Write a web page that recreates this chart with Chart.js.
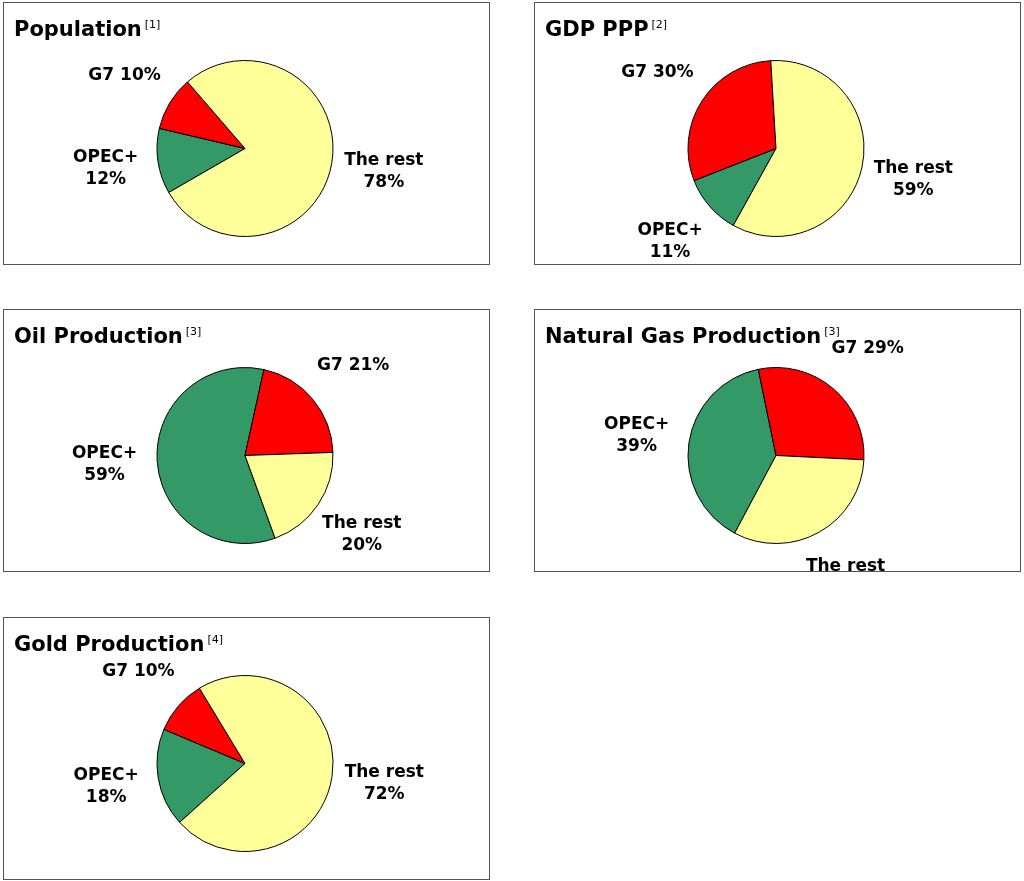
<!DOCTYPE html>
<html>
<head>
<meta charset="UTF-8">
<script src="https://cdn.jsdelivr.net/npm/chart.js"></script>
<style>
  body { margin: 0; background: #fff; font-family: "DejaVu Sans", Verdana, sans-serif; }
  .panel { position: absolute; width: 487px; height: 263px; border: 1px solid #555; box-sizing: border-box; }
  .panel canvas { position: absolute; left: 0; top: 0; }
  .title { position: absolute; left: 10px; top: 14px; font-size: 21px; font-weight: bold; color: #000; z-index: 2; }
  .title sup { font-size: 11px; font-weight: normal; margin-left: 3px; }
</style>
</head>
<body>
<script>
// data
const titles = ["Population", "GDP PPP", "Oil Production", "Natural Gas Production", "Gold Production"];
const refs = ["[1]", "[2]", "[3]", "[3]", "[4]"];
const groups = ["OPEC+", "G7", "The rest"];
const opecShare = [12, 11, 59, 39, 18];
const g7Share = [10, 30, 21, 29, 10];
const restShare = [78, 59, 20, 32, 72];
const rotations = [240, 209, 160, 208, 228];
// which groups get a two-line label (value under name)
const twoLine = [[true, false, true], [true, false, true], [true, false, true], [true, false, true], [true, false, true]];

const colors = ["#339966", "#ff0000", "#ffff99"];
const positions = [[3, 2], [534, 2], [3, 309], [534, 309], [3, 617]];

const labelPlugin = {
  id: "outLabels",
  afterDraw(chart) {
    const ctx = chart.ctx;
    const meta = chart.getDatasetMeta(0);
    const idx = chart.options.plugins.outLabels.idx;
    ctx.save();
    ctx.font = "bold 17px 'DejaVu Sans', Verdana, sans-serif";
    ctx.fillStyle = "#000";
    ctx.textAlign = "center";
    ctx.textBaseline = "middle";
    meta.data.forEach((arc, i) => {
      const mid = (arc.startAngle + arc.endAngle) / 2;
      const r = arc.outerRadius * 1.6;
      const x = arc.x + Math.cos(mid) * r;
      const y = arc.y + Math.sin(mid) * r;
      const v = chart.data.datasets[0].data[i] + "%";
      if (twoLine[idx][i]) {
        ctx.fillText(groups[i], x, y - 11);
        ctx.fillText(v, x, y + 11);
      } else {
        ctx.fillText(groups[i] + " " + v, x, y);
      }
    });
    ctx.restore();
  }
};

titles.forEach((t, i) => {
  const div = document.createElement("div");
  div.className = "panel";
  div.style.left = positions[i][0] + "px";
  div.style.top = positions[i][1] + "px";
  div.innerHTML = '<div class="title">' + t + '<sup>' + refs[i] + '</sup></div><canvas width="485" height="261"></canvas>';
  document.body.appendChild(div);
  new Chart(div.querySelector("canvas"), {
    type: "pie",
    data: {
      labels: groups,
      datasets: [{
        data: [opecShare[i], g7Share[i], restShare[i]],
        backgroundColor: colors,
        borderColor: "#000",
        borderWidth: 1
      }]
    },
    options: {
      responsive: false,
      animation: false,
      rotation: rotations[i],
      layout: { padding: { left: 152, right: 155, top: 57, bottom: 27 } },
      plugins: { legend: { display: false }, tooltip: { enabled: false }, outLabels: { idx: i } }
    },
    plugins: [labelPlugin]
  });
});
</script>
</body>
</html>
